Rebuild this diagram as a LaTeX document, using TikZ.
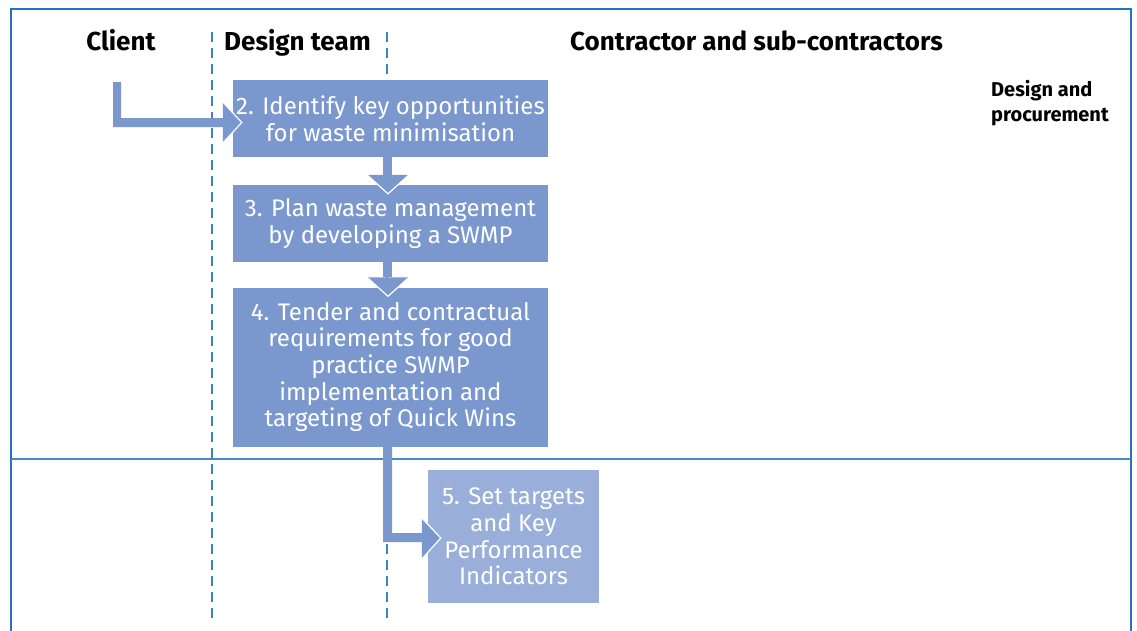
\documentclass[tikz,border=0pt]{standalone}
\usepackage{fontspec}
\setmainfont{Fira Sans}
\usetikzlibrary{calc}
\definecolor{framec}{HTML}{2373BD}
\definecolor{linec}{HTML}{4A8AC4}
\definecolor{boxc}{HTML}{7A98CE}
\definecolor{boxl}{HTML}{99AED9}
\definecolor{dashc}{HTML}{3F84C2}
\begin{document}
\begin{tikzpicture}[x=1pt,y=-1pt,
  box/.style={fill=boxc, text=white, align=center, inner sep=0pt, font=\fontsize{24}{26.6}\selectfont},
  head/.style={font=\bfseries\fontsize{26}{28}\selectfont, anchor=base},
  lane/.style={dashc, line width=1.2pt, dash pattern=on 10pt off 6pt},
  conn/.style={fill=boxc},
  vee/.style={white, line width=1.2pt}]
\useasboundingbox (0,0) rectangle (1137,630);
\fill[white] (0,0) rectangle (1137,630);
% frame
\draw[framec, line width=2.2pt] (11,640) -- (11,9) -- (1131,9) -- (1131,640);
\draw[linec, line width=1.3pt] (11,459) -- (1131,459);
% lanes
\draw[lane] (212,32) -- (212,622);
\draw[lane] (387,32) -- (387,622);
% headings
\node[head] (hc) at (121,50) {Client};
\node[head] (hd) at (297.5,50) {Design team};
\node[head] (hk) at (756.5,50) {Contractor and sub-contractors};
\node[font=\bfseries\fontsize{20}{25}\selectfont, align=left, anchor=base west, inner sep=0pt] (ph) at (991,121) {Design and\\procurement};
% boxes
\node[box, minimum width=315, minimum height=77] (b2) at (390.5,118.5) {2. Identify key opportunities\\for waste minimisation};
\node[box, minimum width=315, minimum height=77] (b3) at (390.5,223.5) {3. Plan waste management\\by developing a SWMP};
\node[box, minimum width=315, minimum height=159] (b4) at (390.5,367) {4. Tender and contractual\\requirements for good\\practice SWMP\\implementation and\\targeting of Quick Wins};
\node[box, fill=boxl, minimum width=171, minimum height=133] (b5) at (513.5,536.5) {5. Set targets\\and Key\\Performance\\Indicators};
% client -> b2
\coordinate (cs) at (117,82);
\fill[conn] ($(cs)+(-4,0)$) -- ($(cs)+(4,0)$) -- ($(cs)+(4,36)$) -- ($(b2.west)+(-10,-0.5)$) -- ($(b2.west)+(-10,8.5)$) -- ($(cs)+(-4,45)$) -- cycle;
\fill[conn] ($(b2.west)+(-10,-16.5)$) -- ($(b2.west)+(9,4)$) -- ($(b2.west)+(-10,24.5)$) -- cycle;
\draw[vee] ($(b2.west)+(-10,-16.5)$) -- ($(b2.west)+(9,4)$) -- ($(b2.west)+(-10,24.5)$);
% b2 -> b3
\fill[conn] ($(b2.south)+(-7.5,0)$) rectangle ($(b3.north)+(1.5,-10)$);
\fill[conn] ($(b3.north)+(-23.5,-10)$) -- ($(b3.north)+(-2.5,9)$) -- ($(b3.north)+(18.5,-10)$) -- cycle;
\draw[vee] ($(b3.north)+(-23.5,-10)$) -- ($(b3.north)+(-2.5,9)$) -- ($(b3.north)+(18.5,-10)$);
% b3 -> b4
\fill[conn] ($(b3.south)+(-7.5,0)$) rectangle ($(b4.north)+(1.5,-10)$);
\fill[conn] ($(b4.north)+(-23.5,-10)$) -- ($(b4.north)+(-2.5,9)$) -- ($(b4.north)+(18.5,-10)$) -- cycle;
\draw[vee] ($(b4.north)+(-23.5,-10)$) -- ($(b4.north)+(-2.5,9)$) -- ($(b4.north)+(18.5,-10)$);
% b4 -> b5
\coordinate (k1) at ($(b4.south)+(1.5,0)$);
\coordinate (k2) at ($(b5.west)+(-6,-3.5)$);
\coordinate (k3) at ($(b4.south)+(-7.5,0)$);
\coordinate (k4) at ($(b5.west)+(-6,5.5)$);
\fill[conn] (k3) -- (k1) -- (k1 |- k2) -- (k2) -- (k4) -- (k3 |- k4) -- cycle;
\fill[conn] ($(b5.west)+(-6,-18.5)$) -- ($(b5.west)+(13,1.5)$) -- ($(b5.west)+(-6,22.5)$) -- cycle;
\draw[vee] ($(b5.west)+(-6,-18.5)$) -- ($(b5.west)+(13,1.5)$) -- ($(b5.west)+(-6,22.5)$);
\end{tikzpicture}
\end{document}
